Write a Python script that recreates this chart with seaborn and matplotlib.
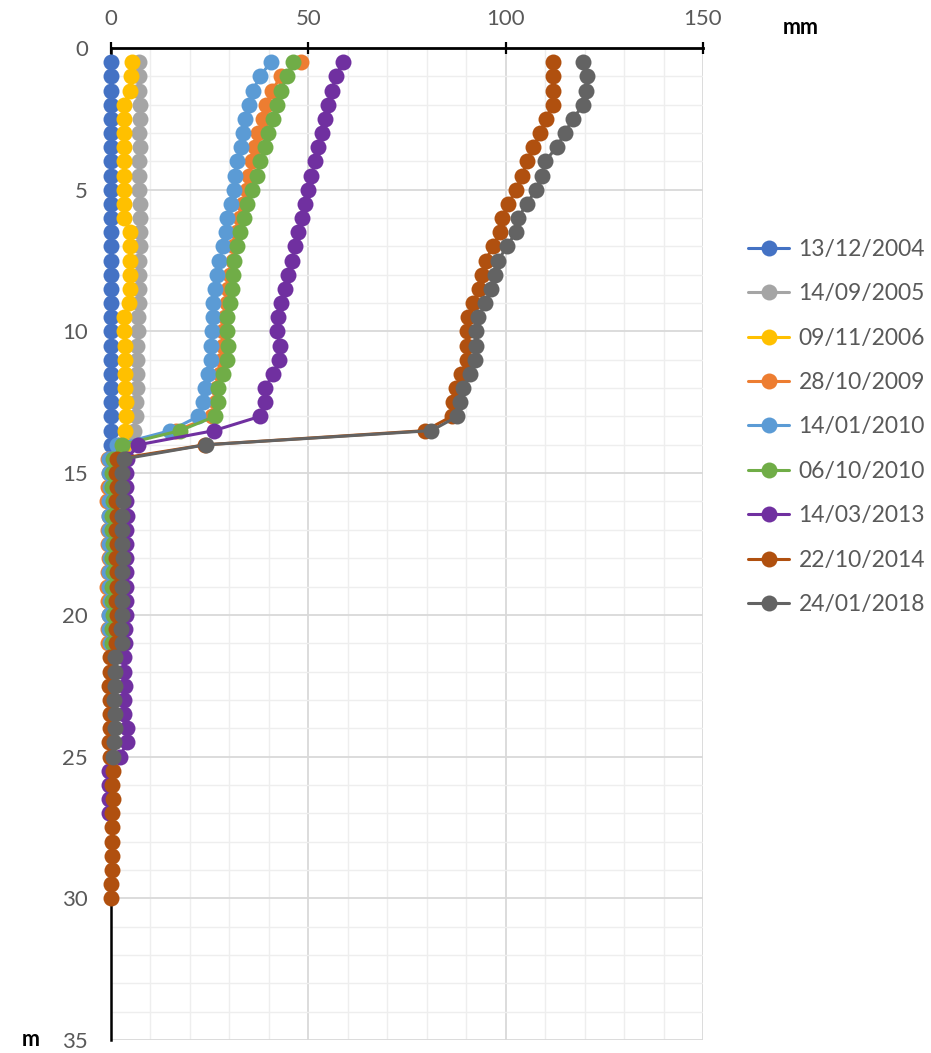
import matplotlib
matplotlib.use("Agg")
import matplotlib.pyplot as plt
from matplotlib.ticker import MultipleLocator
import seaborn as sns

# depth (m), one reading every 0.5 m
depth = [0.5, 1.0, 1.5, 2.0, 2.5, 3.0, 3.5, 4.0, 4.5, 5.0,
         5.5, 6.0, 6.5, 7.0, 7.5, 8.0, 8.5, 9.0, 9.5, 10.0,
         10.5, 11.0, 11.5, 12.0, 12.5, 13.0, 13.5, 14.0, 14.5, 15.0,
         15.5, 16.0, 16.5, 17.0, 17.5, 18.0, 18.5, 19.0, 19.5, 20.0,
         20.5, 21.0, 21.5, 22.0, 22.5, 23.0, 23.5, 24.0, 24.5, 25.0,
         25.5, 26.0, 26.5, 27.0, 27.5, 28.0, 28.5, 29.0, 29.5, 30.0]

dates = ['13/12/2004', '14/09/2005', '09/11/2006', '28/10/2009', '14/01/2010',
         '06/10/2010', '14/03/2013', '22/10/2014', '24/01/2018']

# cumulative displacement (mm)
d_2004 = [0.0, 0.0, 0.0, 0.0, 0.0, 0.0, 0.0, 0.0, 0.0, 0.0,
          0.0, 0.0, 0.0, 0.0, 0.0, 0.0, 0.0, 0.0, 0.0, 0.0,
          0.0, 0.0, 0.0, 0.0, 0.0, 0.0, 0.0, 0.0]
d_2005 = [7.0, 7.2, 7.1, 7.3, 7.4, 7.2, 7.3, 7.0, 7.1, 7.2,
          7.3, 7.4, 7.4, 7.3, 7.2, 7.2, 7.1, 7.0, 6.9, 6.8,
          6.7, 6.6, 6.6, 6.5, 6.4, 6.3, 5.8, 4.5]
d_2006 = [5.2, 5.0, 4.7, 3.3, 3.3, 3.3, 3.4, 3.4, 3.3, 3.4,
          3.4, 3.3, 4.8, 4.9, 4.8, 4.8, 4.7, 4.6, 3.3, 3.4,
          3.5, 3.5, 3.6, 3.6, 3.7, 3.7, 3.6, 3.2]
d_2009 = [48.1, 43.2, 40.7, 39.4, 38.4, 37.3, 36.5, 35.6, 35.0, 34.4,
          33.5, 32.7, 31.8, 31.2, 30.8, 30.1, 29.7, 29.3, 28.9, 28.5,
          28.3, 28.2, 27.6, 26.8, 26.5, 25.6, 16.5, 2.0,
          -0.8, -0.6, -0.7, -0.9, -0.6, -0.8, -0.7, -0.6, -0.8, -0.9,
          -0.7, -0.6, -0.8, -0.7]
d_2010a = [40.5, 37.7, 36.0, 35.0, 34.0, 33.5, 32.9, 31.8, 31.4, 31.2,
           30.5, 29.5, 29.1, 28.5, 27.4, 26.8, 26.3, 25.9, 25.8, 25.5,
           25.4, 25.4, 24.7, 23.8, 23.4, 22.1, 15.0, 1.4,
           -0.4, -0.5, -0.3, -0.5, -0.4, -0.6, -0.4, -0.3, -0.5, -0.4,
           -0.3, -0.5, -0.4, -0.3]
d_2010b = [46.2, 44.5, 43.2, 42.1, 41.0, 39.9, 39.0, 37.7, 36.9, 35.6,
           34.4, 33.7, 32.7, 31.8, 31.2, 30.8, 30.6, 30.1, 29.5, 29.3,
           29.7, 29.3, 28.5, 27.2, 27.2, 26.3, 17.5, 2.7,
           0.4, 0.2, 0.3, 0.5, 0.3, 0.2, 0.4, 0.3, 0.5, 0.2,
           0.3, 0.4, 0.2, 0.3]
d_2013 = [58.7, 57.0, 55.9, 55.0, 54.2, 53.4, 52.5, 51.7, 50.8, 50.0,
          49.2, 48.3, 47.5, 46.6, 45.8, 44.9, 44.1, 43.2, 42.4, 42.0,
          42.8, 42.6, 41.1, 39.0, 39.0, 37.7, 26.1, 6.9,
          4.1, 3.9, 3.8, 3.9, 4.0, 3.8, 3.9, 3.7, 3.8, 3.9,
          3.7, 3.8, 3.6, 3.5, 3.4, 3.3, 3.5, 3.4, 3.3, 4.1,
          4.0, 2.3, -0.5, -0.6, -0.4, -0.5]
d_2014 = [112.1, 112.1, 112.1, 111.9, 110.2, 108.7, 107.0, 105.5, 104.1, 102.6,
          100.7, 99.0, 98.6, 96.7, 95.0, 93.9, 93.3, 91.8, 90.5, 90.1,
          90.1, 90.1, 88.8, 87.4, 86.7, 86.3, 79.6, 23.8,
          1.5, 1.3, 1.4, 1.2, 1.5, 1.3, 1.4, 1.2, 1.4, 1.5,
          1.3, 1.4, 1.2, 1.3, -0.3, -0.2, -0.4, -0.3, -0.2, -0.3,
          -0.4, -0.2, 0.4, 0.3, 0.5, 0.3, 0.2, 0.3, 0.2, 0.3,
          0.1, 0.0]
d_2018 = [119.5, 120.5, 120.3, 119.7, 117.0, 115.0, 112.9, 110.0, 109.1, 107.7,
          105.3, 103.2, 102.6, 100.3, 98.1, 97.3, 96.2, 94.8, 93.1, 92.6,
          92.5, 92.2, 90.9, 89.3, 88.4, 87.7, 81.2, 24.0,
          3.2, 2.9, 2.8, 3.0, 2.7, 2.9, 2.8, 3.0, 2.8, 2.7,
          2.9, 2.8, 2.6, 2.7, 1.0, 0.9, 1.1, 0.8, 1.0, 0.9,
          0.7, 0.4]

series = [d_2004, d_2005, d_2006, d_2009, d_2010a, d_2010b, d_2013, d_2014, d_2018]
colors = ['#4472C4', '#A5A5A5', '#FFC000', '#ED7D31', '#5B9BD5',
          '#70AD47', '#7030A0', '#B0500F', '#636363']

sns.set_style('white')
plt.rcParams['font.family'] = ['Lato', 'DejaVu Sans']

fig = plt.figure(figsize=(9.31, 10.53), dpi=100)
ax = fig.add_axes([111 / 931, 1 - 1040 / 1053, 592 / 931, 992 / 1053])

for vals, name, col in zip(series, dates, colors):
    sns.lineplot(x=vals, y=depth[:len(vals)], orient='y', sort=False, estimator=None,
                 color=col, marker='o', markersize=11.5, markeredgewidth=0,
                 linewidth=2.2, label=name, ax=ax, zorder=3, clip_on=False)

ax.set_xlim(0, 150)
ax.set_ylim(35, 0)
ax.xaxis.tick_top()
ax.xaxis.set_major_locator(MultipleLocator(50))
ax.xaxis.set_minor_locator(MultipleLocator(10))
ax.yaxis.set_major_locator(MultipleLocator(5))
ax.yaxis.set_minor_locator(MultipleLocator(1))
ax.set_xlabel('')
ax.set_ylabel('')

ax.set_axisbelow(True)
ax.grid(which='major', color='#d9d9d9', linewidth=1.3)
ax.grid(which='minor', color='#eeeeee', linewidth=1.0)

for side in ['right', 'bottom']:
    ax.spines[side].set_visible(False)
ax.spines['top'].set_linewidth(2)
ax.spines['top'].set_color('black')
ax.spines['left'].set_linewidth(1.8)
ax.spines['left'].set_color('black')

ax.tick_params(which='major', direction='inout', length=9, width=1.6, color='black',
               labelsize=16, labelcolor='#595959')
ax.tick_params(axis='x', pad=9)
ax.tick_params(axis='y', pad=12)
ax.tick_params(which='minor', length=0)

fig.text(783 / 931, 1 - 27 / 1053, 'mm', fontsize=15.5, fontweight='bold',
         ha='left', va='center', color='black')
fig.text(22 / 931, 1 - 1040 / 1053, 'm', fontsize=15.5, fontweight='bold',
         ha='left', va='center', color='black')

ax.legend(loc='upper left', bbox_to_anchor=(748 / 931, 1 - 239 / 1053),
          bbox_transform=fig.transFigure, frameon=False, fontsize=16.5,
          labelcolor='#595959', handlelength=1.8, handletextpad=0.4,
          labelspacing=1.02, borderpad=0, borderaxespad=0)

plt.savefig('out.png', dpi=100)
